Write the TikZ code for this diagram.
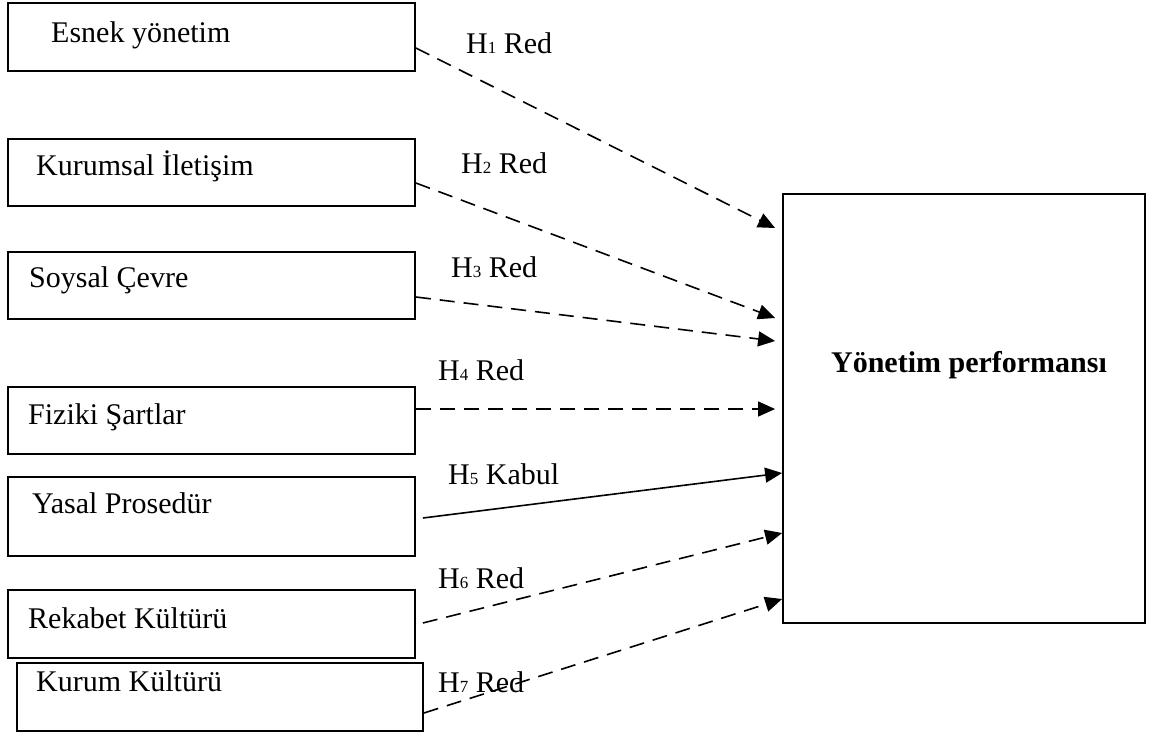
\documentclass[tikz,border=0pt]{standalone}
\usepackage{fontspec}
\setmainfont{Liberation Serif}
\usetikzlibrary{arrows.meta}
\tikzset{
  srcbox/.style={draw=black, line width=1.8pt, minimum width=407pt, inner sep=0pt},
  txt/.style={anchor=base west, inner sep=0pt, font=\fontsize{30}{36}\selectfont},
  hyp/.style={anchor=base west, inner sep=0pt, font=\fontsize{30}{36}\selectfont},
  conn/.style={line width=1.6pt, -{Triangle[length=17pt,width=15pt]}},
  dashconn/.style={conn, dash pattern=on 15pt off 9pt},
}
\newcommand{\hsub}[1]{{\fontsize{17}{20}\selectfont #1}}
\begin{document}
\begin{tikzpicture}[x=1pt,y=-1pt]
\useasboundingbox (0,0) rectangle (1152,732);
% source boxes
\node[srcbox, minimum height=68pt] (b1) at (211.5,37) {};
\node[srcbox, minimum height=67pt] (b2) at (211.5,172.5) {};
\node[srcbox, minimum height=67pt] (b3) at (211.5,285.5) {};
\node[srcbox, minimum height=67pt] (b4) at (211.5,420.5) {};
\node[srcbox, minimum height=79pt] (b5) at (211.5,516.5) {};
\node[srcbox, minimum height=68pt] (b6) at (211.5,624) {};
\node[srcbox, minimum height=68pt, minimum width=406pt] (b7) at (220,697) {};
% texts
\node[txt] (t1) at (51,42) {Esnek yönetim};
\node[txt] (t2) at (36,175) {Kurumsal İletişim};
\node[txt] (t3) at (29,287) {Soysal Çevre};
\node[txt] (t4) at (28,424) {Fiziki Şartlar};
\node[txt] (t5) at (32,513) {Yasal Prosedür};
\node[txt] (t6) at (28,628) {Rekabet Kültürü};
\node[txt] (t7) at (36,691) {Kurum Kültürü};
% target box
\node[draw=black, line width=1.8pt, minimum width=362pt, minimum height=429pt, inner sep=0pt] (big) at (964,408.5) {};
\node[anchor=base, inner sep=0pt, font=\fontsize{30}{36}\selectfont\bfseries] (bigt) at (969,372) {Yönetim performansı};
% connectors
\draw[dashconn] ([yshift=-11pt]b1.east) -- ([xshift=-7pt,yshift=180.5pt]big.west);
\draw[dashconn] ([yshift=-10.5pt]b2.east) -- ([xshift=-7pt,yshift=90.5pt]big.west);
\draw[dashconn] ([yshift=-11.5pt]b3.east) -- ([xshift=-7pt,yshift=67.5pt]big.west);
\draw[dashconn] ([yshift=11.5pt]b4.east) -- ([xshift=-7pt,yshift=-0.5pt]big.west);
\draw[conn] ([xshift=7pt,yshift=-1.5pt]b5.east) -- ([yshift=-64.5pt]big.west);
\draw[dashconn] ([xshift=7pt,yshift=1pt]b6.east) -- ([yshift=-124.5pt]big.west);
\draw[dashconn] ([yshift=-16pt]b7.east) -- ([yshift=-190.5pt]big.west);
% hypothesis labels
\node[hyp] (h1) at (466,53) {H\hsub{1} Red};
\node[hyp] (h2) at (461,173) {H\hsub{2} Red};
\node[hyp] (h3) at (451,277) {H\hsub{3} Red};
\node[hyp] (h4) at (438,380) {H\hsub{4} Red};
\node[hyp] (h5) at (448,484) {H\hsub{5} Kabul};
\node[hyp] (h6) at (438,588) {H\hsub{6} Red};
\node[hyp] (h7) at (438,692) {H\hsub{7} Red};
\end{tikzpicture}
\end{document}
